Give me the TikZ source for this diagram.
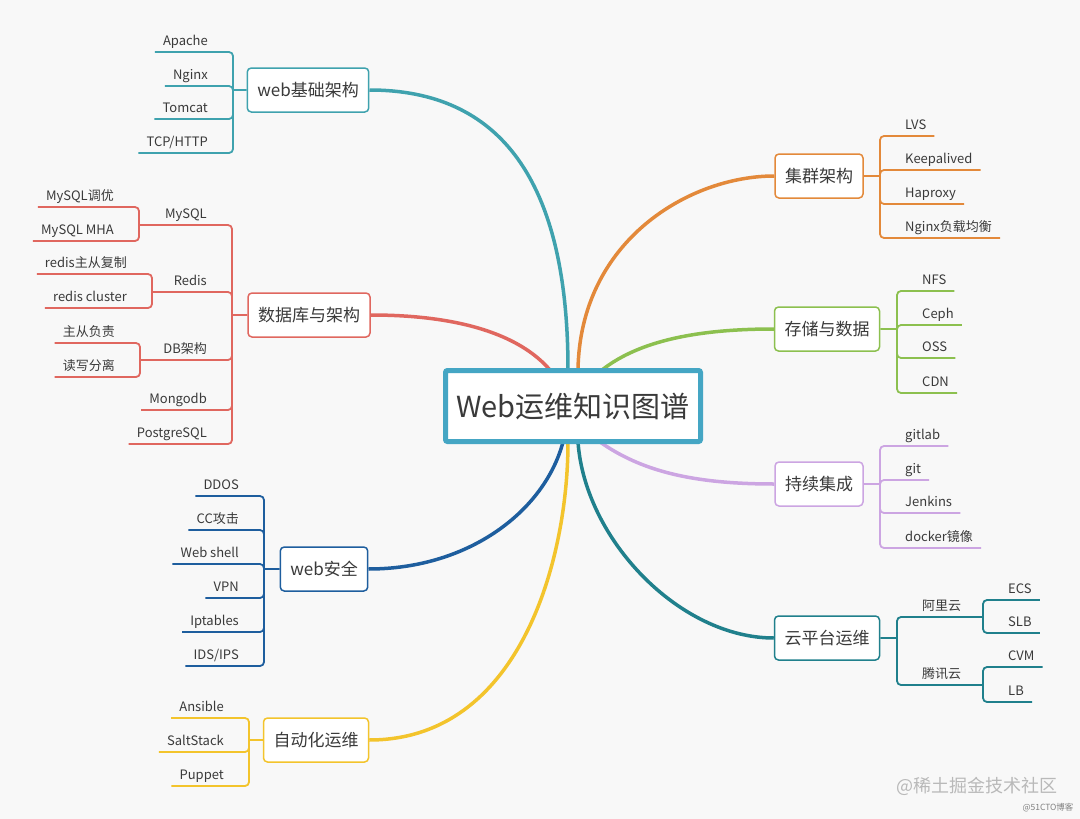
\documentclass[tikz,border=0pt]{standalone}
\usepackage{fontspec}
\setmainfont{Noto Sans CJK SC}
\usepackage{xcolor}
\definecolor{bgcol}{HTML}{F8F8F8}
\definecolor{txtgray}{HTML}{3A3A3A}
\definecolor{croot}{HTML}{45A6C4}
\definecolor{cteal}{HTML}{3FA2AE}
\definecolor{cred}{HTML}{E0675F}
\definecolor{corange}{HTML}{E3893A}
\definecolor{cgreen}{HTML}{8CC04F}
\definecolor{clav}{HTML}{CCA5E2}
\definecolor{cdteal}{HTML}{20808C}
\definecolor{cblue}{HTML}{1E5E9E}
\definecolor{cyellow}{HTML}{F3C42C}

\begin{document}
\begin{tikzpicture}[x=1pt, y=-1pt, text=txtgray, font=\fontsize{13}{15}\selectfont,
    topic/.style={draw=#1, fill=white, rounded corners=4pt, line width=1.5pt,
      minimum height=44pt, inner xsep=10pt, font=\fontsize{17}{20}\selectfont},
    leaf/.style={inner xsep=8pt, inner ysep=3pt, text height=10pt, text depth=3.5pt},
    twig/.style={draw=#1, line width=1.8pt, rounded corners=4pt},
    limb/.style={draw=#1, line width=3.5pt}]

      \fill[bgcol] (0,0) rectangle (1080,819);

      % web 基础架构
      \node[topic=cteal] (web) at (308,90) {web基础架构};
      \coordinate (webhub) at (233,90);
      \node[leaf, anchor=south east] (apache) at (216,52) {Apache};
      \node[leaf, anchor=south east] (nginx) at (216,86) {Nginx};
      \node[leaf, anchor=south east] (tomcat) at (216,119) {Tomcat};
      \node[leaf, anchor=south east] (tcp) at (216,153) {TCP/HTTP};
      \path[twig=cteal] (web.west) -- (webhub)
            (webhub) |- (apache.south west)
            (webhub) |- (nginx.south west)
            (webhub) |- (tomcat.south west)
            (webhub) |- (tcp.south west);

      % 数据库
      \node[topic=cred] (db) at (309,315) {数据库与架构};
      \coordinate (dbhub) at (232,315);
      \coordinate (mysqlhub) at (139,225);
      \coordinate (redishub) at (152,292);
      \coordinate (dbahub) at (140,360);
      \node[leaf, anchor=south east] (mysql) at (215,225) {MySQL};
      \node[leaf, anchor=south east] (redis) at (215,292) {Redis};
      \node[leaf, anchor=south east] (dbarch) at (215,360) {DB架构};
      \node[leaf, anchor=south east] (mongo) at (215,410) {Mongodb};
      \node[leaf, anchor=south east] (pg) at (215,444) {PostgreSQL};
      \node[leaf, anchor=south east] (tune) at (122,207) {MySQL调优};
      \node[leaf, anchor=south east] (mha) at (122,241) {MySQL MHA};
      \node[leaf, anchor=south east] (rrepl) at (135,274) {redis主从复制};
      \node[leaf, anchor=south east] (rclus) at (135,308) {redis cluster};
      \node[leaf, anchor=south east] (ms) at (123,343) {主从负责};
      \node[leaf, anchor=south east] (rw) at (123,377) {读写分离};
      \path[twig=cred] (db.west) -- (dbhub)
            (dbhub) |- (mysqlhub)
            (dbhub) |- (redishub)
            (dbhub) |- (dbahub)
            (dbhub) |- (mongo.south west)
            (dbhub) |- (pg.south west)
            (mysqlhub) |- (tune.south west)
            (mysqlhub) |- (mha.south west)
            (redishub) |- (rrepl.south west)
            (redishub) |- (rclus.south west)
            (dbahub) |- (ms.south west)
            (dbahub) |- (rw.south west);

      % web 安全
      \node[topic=cblue] (sec) at (324,569) {web安全};
      \coordinate (sechub) at (264,569);
      \node[leaf, anchor=south east] (ddos) at (247,496) {DDOS};
      \node[leaf, anchor=south east] (cc) at (247,530) {CC攻击};
      \node[leaf, anchor=south east] (shell) at (247,564) {Web shell};
      \node[leaf, anchor=south east] (vpn) at (247,598) {VPN};
      \node[leaf, anchor=south east] (ipt) at (247,632) {Iptables};
      \node[leaf, anchor=south east] (ids) at (247,666) {IDS/IPS};
      \path[twig=cblue] (sec.west) -- (sechub)
            (sechub) |- (ddos.south west)
            (sechub) |- (cc.south west)
            (sechub) |- (shell.south west)
            (sechub) |- (vpn.south west)
            (sechub) |- (ipt.south west)
            (sechub) |- (ids.south west);

      % 自动化运维
      \node[topic=cyellow] (auto) at (316,740) {自动化运维};
      \coordinate (autohub) at (249,740);
      \node[leaf, anchor=south east] (ansible) at (232,718) {Ansible};
      \node[leaf, anchor=south east] (salt) at (232,752) {SaltStack};
      \node[leaf, anchor=south east] (puppet) at (232,786) {Puppet};
      \path[twig=cyellow] (auto.west) -- (autohub)
            (autohub) |- (ansible.south west)
            (autohub) |- (salt.south west)
            (autohub) |- (puppet.south west);

      % 集群架构
      \node[topic=corange] (cluster) at (819,176) {集群架构};
      \coordinate (clushub) at (880,176);
      \node[leaf, anchor=south west] (lvs) at (897,136) {LVS};
      \node[leaf, anchor=south west] (keep) at (897,170) {Keepalived};
      \node[leaf, anchor=south west] (hap) at (897,204) {Haproxy};
      \node[leaf, anchor=south west] (nlb) at (897,238) {Nginx负载均衡};
      \path[twig=corange] (cluster.east) -- (clushub)
            (clushub) |- (lvs.south east)
            (clushub) |- (keep.south east)
            (clushub) |- (hap.south east)
            (clushub) |- (nlb.south east);

      % 存储与数据
      \node[topic=cgreen] (store) at (827,329) {存储与数据};
      \coordinate (storehub) at (897,329);
      \node[leaf, anchor=south west] (nfs) at (914,291) {NFS};
      \node[leaf, anchor=south west] (ceph) at (914,325) {Ceph};
      \node[leaf, anchor=south west] (oss) at (914,358) {OSS};
      \node[leaf, anchor=south west] (cdn) at (914,393) {CDN};
      \path[twig=cgreen] (store.east) -- (storehub)
            (storehub) |- (nfs.south east)
            (storehub) |- (ceph.south east)
            (storehub) |- (oss.south east)
            (storehub) |- (cdn.south east);

      % 持续集成
      \node[topic=clav] (ci) at (819,484) {持续集成};
      \coordinate (cihub) at (880,484);
      \node[leaf, anchor=south west] (gitlab) at (897,446) {gitlab};
      \node[leaf, anchor=south west] (git) at (897,480) {git};
      \node[leaf, anchor=south west] (jenkins) at (897,513) {Jenkins};
      \node[leaf, anchor=south west] (docker) at (897,548) {docker镜像};
      \path[twig=clav] (ci.east) -- (cihub)
            (cihub) |- (gitlab.south east)
            (cihub) |- (git.south east)
            (cihub) |- (jenkins.south east)
            (cihub) |- (docker.south east);

      % 云平台运维
      \node[topic=cdteal] (cloud) at (827,638) {云平台运维};
      \coordinate (cloudhub) at (897,638);
      \coordinate (alihub) at (983,617);
      \coordinate (tchub) at (983,685);
      \node[leaf, anchor=south west] (ali) at (914,617) {阿里云};
      \node[leaf, anchor=south west] (tc) at (914,685) {腾讯云};
      \node[leaf, anchor=south west] (ecs) at (1000,600) {ECS};
      \node[leaf, anchor=south west] (slb) at (1000,633) {SLB};
      \node[leaf, anchor=south west] (cvm) at (1000,667) {CVM};
      \node[leaf, anchor=south west] (lb) at (1000,702) {LB};
      \path[twig=cdteal] (cloud.east) -- (cloudhub)
            (cloudhub) |- (alihub)
            (cloudhub) |- (tchub)
            (alihub) |- (ecs.south east)
            (alihub) |- (slb.south east)
            (tchub) |- (cvm.south east)
            (tchub) |- (lb.south east);

      % main branches
      \coordinate (tweb) at (568,370);
      \coordinate (tdb) at (550,370);
      \coordinate (tclus) at (578,370);
      \coordinate (tstore) at (602,370);
      \coordinate (tci) at (600,442);
      \coordinate (tcloud) at (578,442);
      \coordinate (tsec) at (563,442);
      \coordinate (tauto) at (568,442);
      \draw[limb=cteal] (web.east) .. controls (500,90) and (568,180) .. (tweb);
      \draw[limb=cred] (db.east) .. controls (460,315) and (520,335) .. (tdb);
      \draw[limb=corange] (cluster.west) .. controls (690,176) and (580,240) .. (tclus);
      \draw[limb=cgreen] (store.west) .. controls (700,329) and (640,340) .. (tstore);
      \draw[limb=clav] (ci.west) .. controls (690,484) and (640,470) .. (tci);
      \draw[limb=cdteal] (cloud.west) .. controls (680,638) and (585,540) .. (tcloud);
      \draw[limb=cblue] (sec.east) .. controls (470,569) and (545,510) .. (tsec);
      \draw[limb=cyellow] (auto.east) .. controls (520,740) and (568,560) .. (tauto);

      \node[draw=croot, line width=5pt, fill=white, rounded corners=2pt,
            minimum width=255pt, minimum height=71pt,
            font=\fontsize{29}{34}\selectfont] (root) at (573,406) {Web运维知识图谱};

      \node[anchor=west, text=gray!55, font=\fontsize{18}{21}\selectfont] (mark) at (893,786) {@稀土掘金技术社区};
      \node[anchor=east, text=gray, font=\fontsize{8.5}{10}\selectfont] (mark2) at (1077,808) {@51CTO博客};

\end{tikzpicture}
\end{document}
